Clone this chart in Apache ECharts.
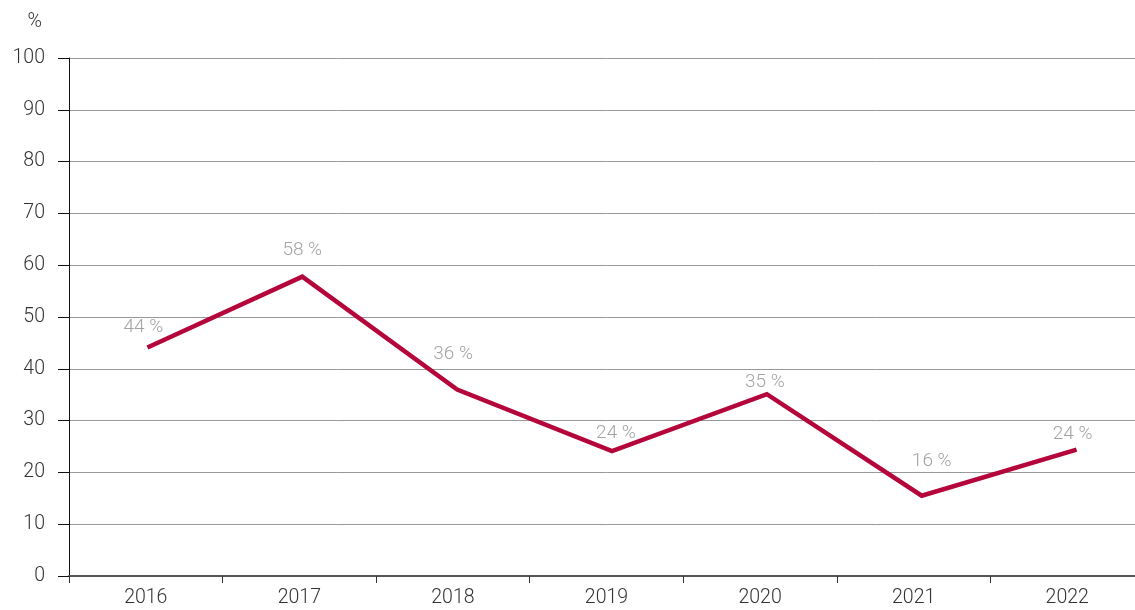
<!DOCTYPE html>
<html>
<head>
<meta charset="utf-8">
<script src="https://cdn.jsdelivr.net/npm/echarts@6/dist/echarts.min.js"></script>
<style>
html,body{margin:0;padding:0;background:#fff;overflow:hidden;width:1135px;height:610px;}
#chart{width:1170px;height:610px;}
</style>
</head>
<body>
<div id="chart"></div>
<script>
const categories = ['2016', '2017', '2018', '2019', '2020', '2021', '2022'];
const shareValues = [44.1, 57.8, 36.0, 24.1, 35.1, 15.5, 24.4];
const yTicks = { min: 0, max: 100, interval: 10 };
const unitLabel = '%';

// label placement offsets (style only)
const labelOffsets = [[-4, -20], [0, -26], [-4, -35], [4, -18], [-2, -12], [10, -34], [-4, -15]];

const FONT = 'Roboto, "Liberation Sans", sans-serif';

const chart = echarts.init(document.getElementById('chart'), null, { renderer: 'canvas' });
chart.setOption({
  animation: false,
  backgroundColor: '#fff',
  grid: [
    { left: 69, top: 58, width: 1075, bottom: 34, containLabel: false },
    { left: 70, top: 58, width: 1084, bottom: 34, containLabel: false }
  ],
  xAxis: [
    {
      type: 'category', gridIndex: 0, data: categories, boundaryGap: true,
      axisLine: { show: true, lineStyle: { color: '#555', width: 2 } },
      axisTick: { show: true, length: 7, lineStyle: { color: '#333', width: 1 } },
      axisLabel: { color: '#333', fontSize: 19.5, fontFamily: FONT, fontWeight: 300, margin: 12 },
      splitLine: { show: false }
    },
    {
      type: 'category', gridIndex: 1, data: categories, boundaryGap: true, show: false
    }
  ],
  yAxis: [
    {
      type: 'value', gridIndex: 0, min: yTicks.min, max: yTicks.max, interval: yTicks.interval,
      name: unitLabel, nameLocation: 'end', nameGap: 26,
      nameTextStyle: { color: '#333', fontSize: 19.5, fontFamily: FONT, fontWeight: 300, align: 'right', padding: [0, 27, 0, 0] },
      axisLine: { show: true, lineStyle: { color: '#111', width: 1 } },
      axisTick: { show: true, inside: false, length: 11, lineStyle: { color: '#111', width: 1 } },
      axisLabel: { color: '#333', fontSize: 19.5, fontFamily: FONT, fontWeight: 300, margin: 24 },
      splitLine: { show: true, lineStyle: { color: '#999', width: 1 } }
    },
    {
      type: 'value', gridIndex: 1, min: yTicks.min, max: yTicks.max, interval: yTicks.interval, show: false,
      splitLine: { show: false }
    }
  ],
  series: [
    {
      type: 'line',
      xAxisIndex: 1, yAxisIndex: 1,
      data: shareValues.map((v, i) => ({
        value: v,
        label: { offset: labelOffsets[i] }
      })),
      symbol: 'circle', symbolSize: 0.1,
      lineStyle: { color: '#b4063b', width: 4.5, join: 'miter' },
      itemStyle: { color: '#b4063b' },
      label: {
        show: true, position: 'inside',
        color: '#a3a3a3', fontSize: 19, fontFamily: FONT, fontWeight: 300,
        formatter: p => Math.round(p.value) + ' %'
      },
      z: 5
    }
  ]
});
</script>
</body>
</html>
